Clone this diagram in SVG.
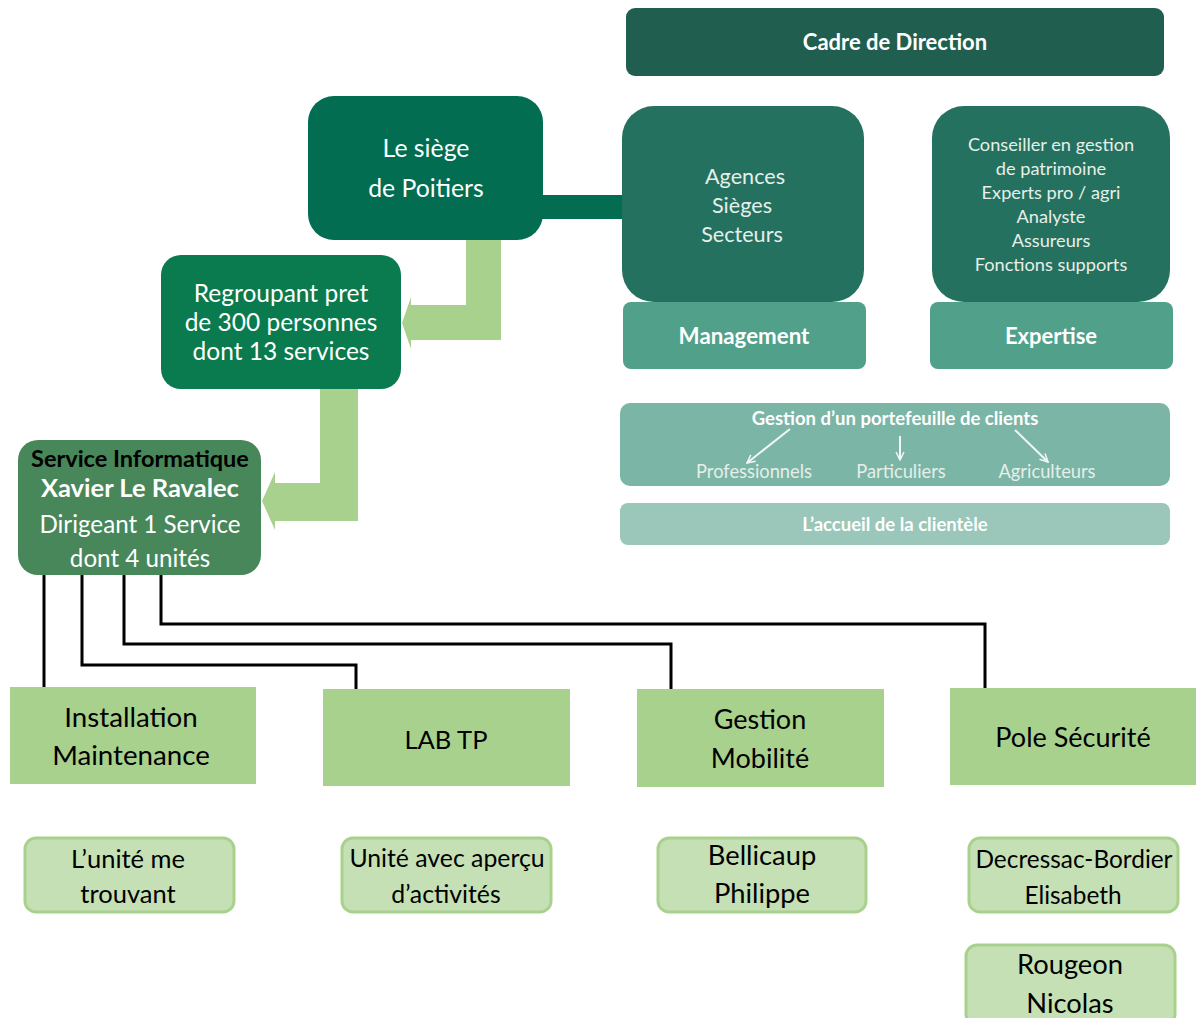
<svg xmlns="http://www.w3.org/2000/svg" width="1196" height="1018" viewBox="0 0 1196 1018">
<defs>
<style>
text{font-family:Lato,"Liberation Sans",sans-serif;text-anchor:middle}
.w{fill:#ffffff}
.lw{fill:#e6efe9}
.k{fill:#000000}
.unit{fill:#a9d18e}
.pers{fill:#c5e0b4;stroke:#a9d18e;stroke-width:3}
.conn{fill:none;stroke:#000;stroke-width:3}
.big{fill:#a9d18e}
.sa{stroke:#f2f7f4;stroke-width:2}
</style>
<marker id="ah" viewBox="0 0 10 10" refX="9" refY="5" markerWidth="10" markerHeight="10" orient="auto" markerUnits="userSpaceOnUse">
<path d="M1,1 L9,5 L1,9" fill="none" stroke="#f2f7f4" stroke-width="1.5"/>
</marker>
</defs>
<rect width="1196" height="1018" fill="#ffffff"/>

<g id="connectors">
<rect x="540" y="195" width="84" height="24" fill="#026d50"/>
<path class="big" d="M466,240 H501 V340 H411 V349 L402,323 L411,297 V305 H466 Z"/>
<path class="big" d="M320,389 H358 V521 H275 V530 L262,501 L275,472 V483 H320 Z"/>
<path class="conn" d="M44,575 V687"/>
<path class="conn" d="M82,575 V665 H356 V689"/>
<path class="conn" d="M124,575 V644 H671 V689"/>
<path class="conn" d="M161,575 V624 H985 V688"/>
</g>

<g id="cadre">
<rect x="626" y="8" width="538" height="68" rx="9" fill="#205e4f"/>
<text x="895" y="50" class="w" font-size="22" font-weight="bold">Cadre de Direction</text>
</g>

<g id="agences">
<rect x="622" y="106" width="242" height="196" rx="32" fill="#25715f"/>
<text class="lw" font-size="21.6"><tspan x="745" y="184">Agences</tspan><tspan x="742" y="213">Sièges</tspan><tspan x="742" y="242">Secteurs</tspan></text>
</g>
<g id="management">
<rect x="623" y="302" width="243" height="67" rx="8" fill="#50a08a"/>
<text x="744" y="344" class="w" font-size="22.3" font-weight="bold">Management</text>
</g>

<g id="conseiller">
<rect x="932" y="106" width="238" height="196" rx="32" fill="#25715f"/>
<text class="lw" font-size="18.2"><tspan x="1051" y="151">Conseiller en gestion</tspan><tspan x="1051" y="175">de patrimoine</tspan><tspan x="1051" y="199">Experts pro / agri</tspan><tspan x="1051" y="223">Analyste</tspan><tspan x="1051" y="247">Assureurs</tspan><tspan x="1051" y="271">Fonctions supports</tspan></text>
</g>
<g id="expertise">
<rect x="930" y="302" width="243" height="67" rx="8" fill="#50a08a"/>
<text x="1051" y="344" class="w" font-size="22" font-weight="bold">Expertise</text>
</g>

<g id="portefeuille">
<rect x="620" y="403" width="550" height="83" rx="10" fill="#7bb5a6"/>
<text x="895" y="425" class="w" font-size="18.5" font-weight="bold">Gestion d’un portefeuille de clients</text>
<path d="M790,429 L747,463" class="sa" marker-end="url(#ah)"/>
<path d="M900,436 L900,460" class="sa" marker-end="url(#ah)"/>
<path d="M1015,430 L1048,462" class="sa" marker-end="url(#ah)"/>
<text x="754" y="478" class="lw" font-size="18.3">Professionnels</text>
<text x="901" y="478" class="lw" font-size="18.3">Particuliers</text>
<text x="1047" y="478" class="lw" font-size="18.3">Agriculteurs</text>
</g>

<g id="accueil">
<rect x="620" y="503" width="550" height="42" rx="8" fill="#9ac7b9"/>
<text x="895" y="531" class="w" font-size="18.5" font-weight="bold">L’accueil de la clientèle</text>
</g>

<g id="siege">
<rect x="308" y="96" width="235" height="144" rx="26" fill="#026d50"/>
<text class="w" font-size="24.8"><tspan x="426" y="157">Le siège</tspan><tspan x="426" y="197">de Poitiers</tspan></text>
</g>

<g id="regroupant">
<rect x="161" y="255" width="240" height="134" rx="20" fill="#097b4e"/>
<text class="w" font-size="24.5"><tspan x="281" y="302">Regroupant pret</tspan><tspan x="281" y="331">de 300 personnes</tspan><tspan x="281" y="360">dont 13 services</tspan></text>
</g>

<g id="service">
<rect x="18" y="440" width="243" height="135" rx="20" fill="#48875a"/>
<text x="140" y="467" class="k" font-size="23.5" font-weight="bold">Service Informatique</text>
<text x="140" y="497" class="w" font-size="25.5" font-weight="bold">Xavier Le Ravalec</text>
<text x="140" y="533" class="w" font-size="24.2">Dirigeant 1 Service</text>
<text x="140" y="567" class="w" font-size="24.2">dont 4 unités</text>
</g>

<g id="installation">
<rect x="10" y="687" width="246" height="97" class="unit"/>
<text class="k" font-size="27.7"><tspan x="131" y="727">Installation</tspan><tspan x="131" y="765">Maintenance</tspan></text>
</g>
<g id="labtp">
<rect x="323" y="689" width="247" height="97" class="unit"/>
<text x="446" y="749" class="k" font-size="25.5">LAB TP</text>
</g>
<g id="gestion">
<rect x="637" y="689" width="247" height="98" class="unit"/>
<text class="k" font-size="27"><tspan x="760" y="729">Gestion</tspan><tspan x="760" y="768">Mobilité</tspan></text>
</g>
<g id="pole">
<rect x="950" y="688" width="246" height="97" class="unit"/>
<text x="1073" y="747" class="k" font-size="27">Pole Sécurité</text>
</g>

<g id="unite-trouvant">
<rect x="25" y="838" width="209" height="74" rx="11" class="pers"/>
<text class="k" font-size="25.5"><tspan x="128" y="868">L’unité me</tspan><tspan x="128" y="903">trouvant</tspan></text>
</g>
<g id="unite-apercu">
<rect x="342" y="838" width="209" height="74" rx="11" class="pers"/>
<text class="k" font-size="24.8"><tspan x="447" y="867">Unité avec aperçu</tspan><tspan x="446" y="903">d’activités</tspan></text>
</g>
<g id="bellicaup">
<rect x="658" y="838" width="208" height="74" rx="11" class="pers"/>
<text class="k" font-size="27.3"><tspan x="762" y="865">Bellicaup</tspan><tspan x="762" y="903">Philippe</tspan></text>
</g>
<g id="decressac">
<rect x="969" y="838" width="209" height="74" rx="11" class="pers"/>
<text class="k" font-size="24.4"><tspan x="1074" y="868">Decressac-Bordier</tspan><tspan x="1073" y="904">Elisabeth</tspan></text>
</g>
<g id="rougeon">
<rect x="966" y="945" width="209" height="80" rx="11" class="pers"/>
<text class="k" font-size="27.3"><tspan x="1070" y="974">Rougeon</tspan><tspan x="1070" y="1013">Nicolas</tspan></text>
</g>
</svg>
